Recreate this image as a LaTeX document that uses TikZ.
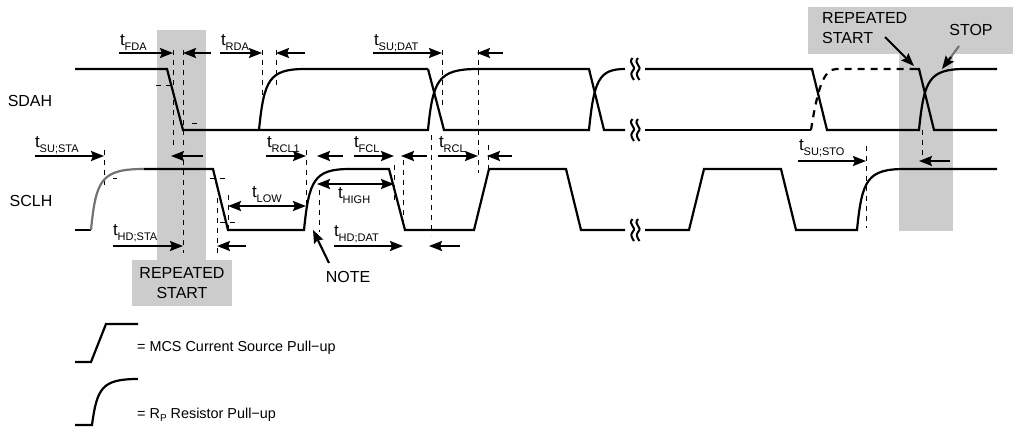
\documentclass[tikz,border=0pt]{standalone}
\usepackage{fontspec}
\setmainfont{Liberation Sans}
\usetikzlibrary{arrows.meta}
\definecolor{band}{gray}{0.8}
\definecolor{trace}{gray}{0.45}
\newcommand{\tlab}[1]{\fontsize{17}{17}\selectfont t\raisebox{-5pt}{\fontsize{11}{11}\selectfont #1}}
\tikzset{
  x=1pt,y=-1pt,
  sig/.style={line width=2.2pt,line join=miter,black},
  dim/.style={line width=2.1pt,-{Stealth[length=13pt,width=10pt,inset=2pt]}},
  ddim/.style={line width=2.1pt,{Stealth[length=13pt,width=10pt,inset=2pt]}-{Stealth[length=13pt,width=10pt,inset=2pt]}},
  guide/.style={line width=0.9pt,dash pattern=on 5pt off 5pt},
  tl/.style={anchor=base west,inner sep=0pt,outer sep=0pt},
  txt/.style={inner sep=0pt,font=\fontsize{16}{20}\selectfont},
  leg/.style={anchor=base west,inner sep=0pt,font=\fontsize{14.4}{17}\selectfont},
  breakmark/.pic={
    \draw[line width=2pt] (-3.5,-11) .. controls (-9,-5) and (2,-3) .. (-3.5,2) .. controls (-6,5) and (-4,8) .. (-2,11);
    \draw[line width=2pt] (2,-11) .. controls (-3.5,-5) and (7.5,-3) .. (2,2) .. controls (-0.5,5) and (1.5,8) .. (3.5,11);
  }
}
\begin{document}
\begin{tikzpicture}
\useasboundingbox (0,0) rectangle (1013,429);
% bands
\fill[band] (157,30) rectangle (206,260);
\fill[band] (132,260) rectangle (232,306);
\fill[band] (808,7) rectangle (1013,54);
\fill[band] (899,54) rectangle (953,231);
% guides
\foreach \xx/\ya/\yb in {173/50/146,183/50/146,183/160/253,262/50/105,276/50/85,104/150/185,
  217/198/254,228/195/228,306/150/205,319/190/232,394/165/200,403/160/230,431/135/235,
  442/50/105,478/50/173,488/145/170,866/146/228,922/130/160}
  \draw[guide] (\xx,\ya) -- (\xx,\yb);
\foreach \xa/\xb/\yy in {156/172/85,192/197/123,113/117/178,210/225/178,220/235/222}
  \draw[guide] (\xa,\yy) -- (\xb,\yy);
% SDAH
\draw[sig] (75,69) -- (167,69) -- (183,130) -- (428,130)
  .. controls (433,80) and (438,69) .. (478,69) -- (589,69) -- (604,130) -- (625,130);
\draw[sig] (259,130) .. controls (264,80) and (269,69) .. (305,69) -- (428,69);
\draw[sig] (428,69) -- (444,130) -- (589,130) .. controls (594,80) and (599,69) .. (625,69);
\draw[sig] (645,69) -- (812,69) -- (827,130) -- (919,130)
  .. controls (924,80) and (929,69) .. (965,69) -- (997,69);
\draw[sig] (645,130) -- (811,130);
\draw[sig,dash pattern=on 7pt off 6pt] (811,130) .. controls (817,92) and (823,69) .. (836,69) -- (915,69);
\draw[sig] (915,69) -- (919,69) -- (934,130) -- (997,130);
% SCLH
\draw[sig] (75,230) -- (91,230);
\draw[sig,trace] (91,230) .. controls (96,180) and (101,169) .. (144,169);
\draw[sig] (144,169) -- (213,169) -- (228,230) -- (304,230)
  .. controls (309,180) and (314,169) .. (350,169) -- (389,169) -- (405,230) -- (474,230)
  -- (489,169) -- (566,169) -- (581,230) -- (625,230);
\draw[sig] (645,230) -- (689,230) -- (704,169) -- (781,169) -- (796,230) -- (857,230)
  .. controls (862,180) and (867,169) .. (905,169) -- (997,169);
% breaks
\foreach \yy in {69,130,230} \path (636,\yy) pic {breakmark};
% dimension arrows
\foreach \xa/\xb/\yy in {119/173/53,211/183/53,220/262/53,305/276/53,373/442/53,503/477/53,
  35/104/156,203/171/156,266/306/156,343/317/156,354/394/156,427/401/156,438/478/156,512/487/156,
  113/183/246,246/217/246,334/403/246,460/429/246,798/866/161,950/919/161}
  \draw[dim] (\xa,\yy) -- (\xb,\yy);
\draw[ddim] (228,206) -- (306,206);
\draw[ddim] (317,184) -- (394,184);
% timing labels
\node[tl] (tfda) at (120,45) {\tlab{FDA}};
\node[tl] (trda) at (221,45) {\tlab{RDA}};
\node[tl] (tsudat) at (374,45) {\tlab{SU;DAT}};
\node[tl] (tsusta) at (35,147) {\tlab{SU;STA}};
\node[tl] (trcla) at (267,147) {\tlab{RCL1}};
\node[tl] (tfcl) at (354,147) {\tlab{FCL}};
\node[tl] (trcl) at (439,147) {\tlab{RCL}};
\node[tl] (tsusto) at (799,150) {\tlab{SU;STO}};
\node[tl] (tlow) at (252,197) {\tlab{LOW}};
\node[tl] (thigh) at (338,198) {\tlab{HIGH}};
\node[tl] (thdsta) at (113,235) {\tlab{HD;STA}};
\node[tl] (thddat) at (334,236) {\tlab{HD;DAT}};
% text
\node[txt] (sda) at (30,101) {SDAH};
\node[txt] (scl) at (31,201) {SCLH};
\node[txt,align=center] (rs1) at (182,283) {REPEATED\\START};
\node[txt] (note) at (348,277) {NOTE};
\node[txt,align=left,anchor=north west] (rs2) at (822,12) {REPEATED\\START};
\node[txt] (stop) at (971,30) {STOP};
\coordinate (rs2tip) at (914,66);
\coordinate (stoptip) at (942,69);
\coordinate (notetip) at (313,230);
\draw[dim] (885,37) -- (rs2tip);
\draw[line width=2.1pt,draw=trace] (959,46) -- (948,61);
\draw[dim,draw=black] (951,57) -- (stoptip);
\draw[dim] (329,263) -- (notetip);
% legend
\draw[sig] (75,362) -- (91,362) -- (106,324) -- (138,324);
\draw[sig] (75,425) -- (92,425) .. controls (97,388) and (102,379) .. (138,379);
\node[leg] (l1) at (137,351) {= MCS Current Source Pull−up};
\node[leg] (l2) at (137,418) {= R\raisebox{-3.5pt}{\fontsize{10}{10}\selectfont P} Resistor Pull−up};
\end{tikzpicture}
\end{document}
